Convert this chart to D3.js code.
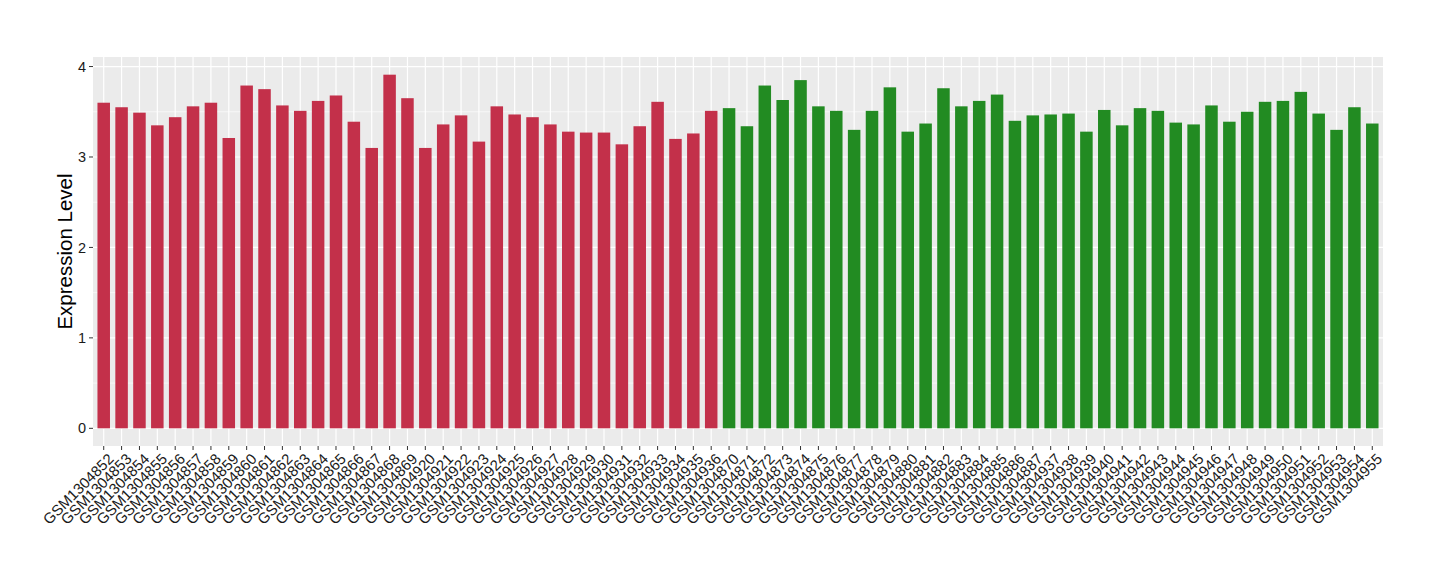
<!DOCTYPE html>
<html><head><meta charset="utf-8">
<script src="https://cdn.jsdelivr.net/npm/d3@7"></script>
<style>body{margin:0;background:#fff;} text{font-family:"Liberation Sans",Arial,sans-serif;}</style>
</head><body><svg id="c" width="1440" height="580"></svg>
<script>
const redSamples = ["GSM1304852","GSM1304853","GSM1304854","GSM1304855","GSM1304856","GSM1304857","GSM1304858","GSM1304859","GSM1304860","GSM1304861","GSM1304862","GSM1304863","GSM1304864","GSM1304865","GSM1304866","GSM1304867","GSM1304868","GSM1304869","GSM1304920","GSM1304921","GSM1304922","GSM1304923","GSM1304924","GSM1304925","GSM1304926","GSM1304927","GSM1304928","GSM1304929","GSM1304930","GSM1304931","GSM1304932","GSM1304933","GSM1304934","GSM1304935","GSM1304936"];
const redValues = [3.60,3.55,3.49,3.35,3.44,3.56,3.60,3.21,3.79,3.75,3.57,3.51,3.62,3.68,3.39,3.10,3.91,3.65,3.10,3.36,3.46,3.17,3.56,3.47,3.44,3.36,3.28,3.27,3.27,3.14,3.34,3.61,3.20,3.26,3.51];
const greenSamples = ["GSM1304870","GSM1304871","GSM1304872","GSM1304873","GSM1304874","GSM1304875","GSM1304876","GSM1304877","GSM1304878","GSM1304879","GSM1304880","GSM1304881","GSM1304882","GSM1304883","GSM1304884","GSM1304885","GSM1304886","GSM1304887","GSM1304937","GSM1304938","GSM1304939","GSM1304940","GSM1304941","GSM1304942","GSM1304943","GSM1304944","GSM1304945","GSM1304946","GSM1304947","GSM1304948","GSM1304949","GSM1304950","GSM1304951","GSM1304952","GSM1304953","GSM1304954","GSM1304955"];
const greenValues = [3.54,3.34,3.79,3.63,3.85,3.56,3.51,3.30,3.51,3.77,3.28,3.37,3.76,3.56,3.62,3.69,3.40,3.46,3.47,3.48,3.28,3.52,3.35,3.54,3.51,3.38,3.36,3.57,3.39,3.50,3.61,3.62,3.72,3.48,3.30,3.55,3.37];
const yTicks = [0,1,2,3,4];
const groupColors = {red:"#C3304A", green:"#228B22"};

const data = redSamples.map((s,i)=>({s, v:redValues[i], g:"red"}))
  .concat(greenSamples.map((s,i)=>({s, v:greenValues[i], g:"green"})));

const L=93, R=1383, T=57, B=446;
const svg = d3.select("#c");
const n = data.length;
const xl = d3.scaleLinear().domain([0.4, n + 0.6]).range([L, R]);
const idx = new Map(data.map((d,i)=>[d.s, i+1]));
const xc = s => xl(idx.get(s));
const bw = (xl(2) - xl(1)) * 0.7;
const yMax = d3.max(data,d=>d.v);
const y = d3.scaleLinear().domain([0 - yMax*0.05, yMax*1.05]).range([B,T]);

svg.append("rect").attr("x",L).attr("y",T).attr("width",R-L).attr("height",B-T).attr("fill","#EBEBEB");
const minor = [0.5,1.5,2.5,3.5];
svg.selectAll(".mg").data(minor).enter().append("line")
  .attr("x1",L).attr("x2",R).attr("y1",d=>y(d)).attr("y2",d=>y(d))
  .attr("stroke","#fff").attr("stroke-width",0.6);
svg.selectAll(".gy").data(yTicks).enter().append("line")
  .attr("x1",L).attr("x2",R).attr("y1",d=>y(d)).attr("y2",d=>y(d))
  .attr("stroke","#fff").attr("stroke-width",1.2);
svg.selectAll(".gx").data(data).enter().append("line")
  .attr("x1",d=>xc(d.s)).attr("x2",d=>xc(d.s)).attr("y1",T).attr("y2",B)
  .attr("stroke","#fff").attr("stroke-width",1.2);

svg.selectAll(".bar").data(data).enter().append("rect")
  .attr("x",d=>xc(d.s)-bw/2).attr("width",bw)
  .attr("y",d=>y(d.v)).attr("height",d=>y(0)-y(d.v))
  .attr("fill",d=>groupColors[d.g]);

const ya = svg.append("g");
yTicks.forEach(t=>{
  ya.append("line").attr("x1",L-4).attr("x2",L).attr("y1",y(t)).attr("y2",y(t)).attr("stroke","#333").attr("stroke-width",1);
  ya.append("text").attr("x",L-7).attr("y",y(t)).attr("dy","0.35em").attr("text-anchor","end")
    .attr("font-size",14.5).attr("fill","#1a1a1a").text(t);
});
svg.append("text").attr("transform",`translate(72,${(T+B)/2}) rotate(-90)`)
  .attr("text-anchor","middle").attr("font-size",20.5).attr("fill","#000").text("Expression Level");

const xa = svg.append("g");
data.forEach(d=>{
  const cx = xc(d.s);
  xa.append("line").attr("x1",cx).attr("x2",cx).attr("y1",B).attr("y2",B+4).attr("stroke","#333");
  xa.append("text").attr("transform",`translate(${cx+3},${B+6}) rotate(-45)`)
    .attr("text-anchor","end").attr("dy","0.75em").attr("font-size",15).attr("fill","#1a1a1a").text(d.s);
});
</script></body></html>
